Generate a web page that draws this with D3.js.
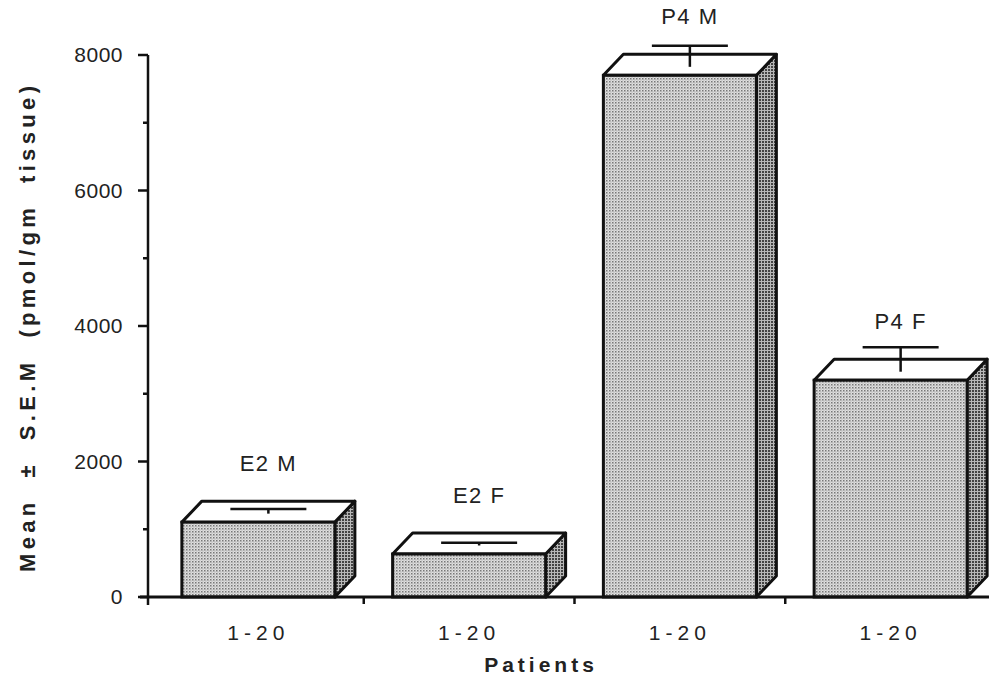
<!DOCTYPE html>
<html>
<head>
<meta charset="utf-8">
<script src="https://cdn.jsdelivr.net/npm/d3@7"></script>
<style>
    body { margin: 0; background: #fff; }
    text { font-family: "Liberation Sans", Arial, sans-serif; fill: #222; }
</style>
</head>
<body>
<div id="chart"></div>
<script>
'use strict';

// values
var groups = ['E2 M', 'E2 F', 'P4 M', 'P4 F'];
var patients = ['1-20', '1-20', '1-20', '1-20'];
var means = [1105, 635, 7700, 3200];
var sems = [40, 10, 280, 330];
var majorTicks = [0, 2000, 4000, 6000, 8000];
var minorTicks = [1000, 3000, 5000, 7000];

var width = 989, height = 681;
var depthX = 20, depthY = 21;

var svg = d3.select('#chart').append('svg')
    .attr('width', width)
    .attr('height', height);

// stippled fills like the print
var defs = svg.append('defs');
var front = defs.append('pattern')
    .attr('id', 'dotsFront')
    .attr('width', 3).attr('height', 3)
    .attr('patternUnits', 'userSpaceOnUse');
front.append('rect').attr('width', 3).attr('height', 3).attr('fill', '#e0e0e0');
front.append('rect').attr('x', 0).attr('y', 0).attr('width', 1.5).attr('height', 1.5).attr('fill', '#777');
front.append('rect').attr('x', 1.5).attr('y', 1.5).attr('width', 1).attr('height', 1).attr('fill', '#999');

var side = defs.append('pattern')
    .attr('id', 'dotsSide')
    .attr('width', 3).attr('height', 3)
    .attr('patternUnits', 'userSpaceOnUse');
side.append('rect').attr('width', 3).attr('height', 3).attr('fill', '#b8b8b8');
side.append('rect').attr('x', 0).attr('y', 0).attr('width', 2).attr('height', 2).attr('fill', '#444');

var x = d3.scaleBand()
    .domain(d3.range(groups.length))
    .range([153, 996])
    .paddingInner(0)
    .paddingOuter(0);

var y = d3.scaleLinear()
    .domain([0, 8000])
    .range([597, 55]);

var barW = 153;

// y axis
var yAxis = svg.append('g');
yAxis.append('line')
    .attr('x1', 148).attr('x2', 148)
    .attr('y1', y(8000)).attr('y2', y(0) + 8)
    .attr('stroke', '#111').attr('stroke-width', 2.5);

yAxis.selectAll('.major')
    .data(majorTicks)
    .enter().append('line')
    .attr('x1', 138).attr('x2', 148)
    .attr('y1', d => y(d)).attr('y2', d => y(d))
    .attr('stroke', '#111').attr('stroke-width', 2.5);

yAxis.selectAll('.minor')
    .data(minorTicks)
    .enter().append('line')
    .attr('x1', 143).attr('x2', 148)
    .attr('y1', d => y(d)).attr('y2', d => y(d))
    .attr('stroke', '#111').attr('stroke-width', 2.5);

yAxis.selectAll('.lbl')
    .data(majorTicks)
    .enter().append('text')
    .attr('x', 123)
    .attr('y', d => y(d) + 7)
    .attr('text-anchor', 'end')
    .attr('font-size', '21px')
    .attr('letter-spacing', '0.5px')
    .text(d => d);

svg.append('text')
    .attr('transform', 'translate(35,' + 329 + ') rotate(-90)')
    .attr('text-anchor', 'middle')
    .attr('font-size', '22px')
    .attr('font-weight', 'bold')
    .attr('textLength', 486)
    .attr('lengthAdjust', 'spacing')
    .attr('xml:space', 'preserve')
    .text('Mean  \u00b1  S.E.M  (pmol/gm  tissue)');

// bars drawn as boxes
var bars = svg.append('g')
    .selectAll('.bar')
    .data(groups.map((g, i) => ({ name: g, mean: means[i], sem: sems[i], i: i })))
    .enter().append('g')
    .attr('class', 'bar');

bars.each(function(d) {
    var g = d3.select(this);
    var x0 = x(d.i) + (x.bandwidth() - barW) / 2;
    var x1 = x0 + barW;
    var yt = y(d.mean);
    var yb = y(0);

    // side face
    g.append('path')
        .attr('d', 'M' + x1 + ',' + yt + ' L' + (x1 + depthX) + ',' + (yt - depthY) +
            ' L' + (x1 + depthX) + ',' + (yb - depthY) + ' L' + x1 + ',' + yb + ' Z')
        .attr('fill', 'url(#dotsSide)')
        .attr('stroke', '#111').attr('stroke-width', 3).attr('stroke-linejoin', 'round');

    // top face
    g.append('path')
        .attr('d', 'M' + x0 + ',' + yt + ' L' + (x0 + depthX) + ',' + (yt - depthY) +
            ' L' + (x1 + depthX) + ',' + (yt - depthY) + ' L' + x1 + ',' + yt + ' Z')
        .attr('fill', '#fff')
        .attr('stroke', '#111').attr('stroke-width', 3).attr('stroke-linejoin', 'round');

    // front face
    g.append('rect')
        .attr('x', x0).attr('y', yt)
        .attr('width', barW).attr('height', yb - yt)
        .attr('fill', 'url(#dotsFront)')
        .attr('stroke', '#111').attr('stroke-width', 3);

    // error bar at mid depth of the top face
    var cx = (x0 + x1) / 2 + depthX / 2;
    var yMid = yt - depthY / 2;
    var yCap = y(d.mean + d.sem) - depthY / 2;
    g.append('line')
        .attr('x1', cx - 38).attr('x2', cx + 38)
        .attr('y1', yCap).attr('y2', yCap)
        .attr('stroke', '#111').attr('stroke-width', 2.5);
    g.append('line')
        .attr('x1', cx).attr('x2', cx)
        .attr('y1', yCap).attr('y2', yMid + 2)
        .attr('stroke', '#111').attr('stroke-width', 2.5);

    g.append('text')
        .attr('x', cx)
        .attr('y', yt - depthY - 30)
        .attr('text-anchor', 'middle')
        .attr('font-size', '22px')
        .attr('letter-spacing', '1.5px')
        .attr('xml:space', 'preserve')
        .text(d.name);
});

// x axis
var xAxis = svg.append('g');
xAxis.append('line')
    .attr('x1', 140).attr('x2', width)
    .attr('y1', y(0)).attr('y2', y(0))
    .attr('stroke', '#111').attr('stroke-width', 3);

xAxis.selectAll('.tick')
    .data(d3.range(1, groups.length))
    .enter().append('line')
    .attr('x1', d => x(d)).attr('x2', d => x(d))
    .attr('y1', y(0)).attr('y2', y(0) + 7)
    .attr('stroke', '#111').attr('stroke-width', 2.5);

xAxis.selectAll('.cat')
    .data(patients)
    .enter().append('text')
    .attr('x', (d, i) => x(i) + x.bandwidth() / 2)
    .attr('y', 640)
    .attr('text-anchor', 'middle')
    .attr('font-size', '21px')
    .attr('letter-spacing', '5px')
    .text(d => d);

svg.append('text')
    .attr('x', 541)
    .attr('y', 672)
    .attr('text-anchor', 'middle')
    .attr('font-size', '21px')
    .attr('font-weight', 'bold')
    .attr('letter-spacing', '4px')
    .text('Patients');
</script>
</body>
</html>
